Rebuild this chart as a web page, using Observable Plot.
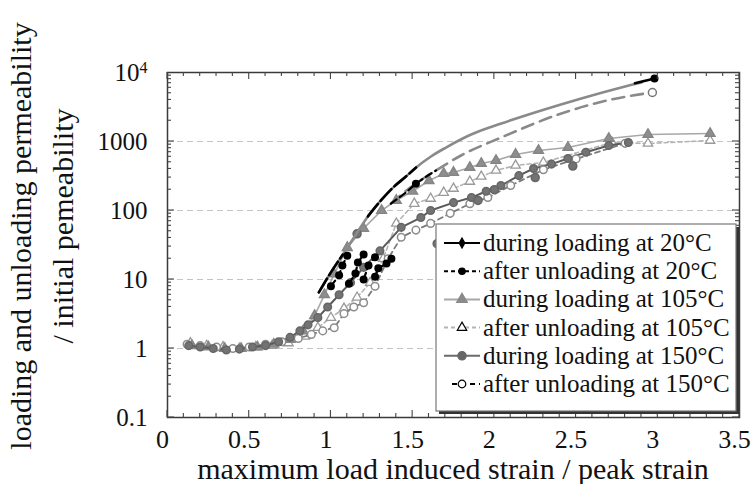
<!DOCTYPE html>
<html><head><meta charset="utf-8">
<script src="https://cdn.jsdelivr.net/npm/d3@7"></script>
<script src="https://cdn.jsdelivr.net/npm/@observablehq/plot@0.6"></script>
<style>body{margin:0;background:#fff}svg{display:block}</style>
</head><body><div id="chart"></div>
<script>
// ---------- tick labels ----------
const xTicks = [0, 0.5, 1, 1.5, 2, 2.5, 3, 3.5];
const xTickLabels = ["0", "0.5", "1", "1.5", "2", "2.5", "3", "3.5"];
const yTicks = [0.1, 1, 10, 100, 1000, 10000];
const yTickLabels = ["0.1", "1", "10", "100", "1000", "10⁴"];
const gridValues = [1, 10, 100, 1000];

const legendLabels = [
  "during loading at 20°C",
  "after unloading at 20°C",
  "during loading at 105°C",
  "after unloading at 105°C",
  "during loading at 150°C",
  "after unloading at 150°C"
];

// ---------- during loading at 150°C ----------
const load150X = [0.13,0.2,0.28,0.36,0.44,0.52,0.6,0.68,0.75,0.81,0.86,0.92,0.98,1.05,1.12,1.2,1.3,1.43,1.55,1.61,1.75,1.86,1.95,2.04,2.15,2.24,2.35,2.45,2.56,2.7,2.82];
const load150Y = [1.1,1.05,1.0,0.95,0.98,1.05,1.1,1.25,1.45,1.8,2.2,2.8,4,6,9,15,26,57,79,100,130,154,190,230,320,406,470,567,700,875,968];
const load150ExtraX = [1.16, 1.65, 1.9, 2.0, 2.25, 2.48];
const load150ExtraY = [46, 33, 140, 200, 300, 440];

// ---------- after unloading at 150°C ----------
const unload150X = [0.12,0.2,0.3,0.4,0.5,0.6,0.7,0.8,0.88,0.95,1.02,1.08,1.14,1.2,1.27,1.35,1.43,1.52,1.61,1.73,1.85,1.96,2.1,2.3,2.5,2.8];
const unload150Y = [1.15,1.1,1.05,1.0,1.05,1.15,1.25,1.4,1.6,1.8,2.0,3.2,4.0,4.6,8,20,41,52,65,91,125,154,230,390,560,940];

// ---------- during loading at 105°C ----------
const load105X = [0.15,0.25,0.35,0.45,0.55,0.65,0.75,0.83,0.9,0.96,1.02,1.1,1.2,1.31,1.4,1.5,1.6,1.69,1.75,1.85,1.92,2.01,2.13,2.27,2.45,2.7,2.94,3.32];
const load105Y = [1.1,1.05,1.0,1.0,1.05,1.15,1.35,1.8,3,6,12,29,55,100,140,190,270,344,356,420,480,530,649,741,819,1105,1262,1306];

// ---------- after unloading at 105°C ----------
const unload105X = [0.14,0.24,0.34,0.44,0.54,0.64,0.74,0.84,0.92,1.0,1.08,1.16,1.24,1.32,1.4,1.51,1.61,1.69,1.75,1.85,1.92,2.01,2.13,2.3,2.72,2.94,3.32];
const unload105Y = [1.2,1.1,1.05,1.0,1.05,1.1,1.2,1.5,2,2.8,3.8,5.5,9,20,65,126,149,182,208,263,311,380,449,497,968,936,1033];

// ---------- upper curves (solid and dashed) ----------
const fitLoadX = [0.926,0.999,1.073,1.153,1.226,1.306,1.38,1.459,1.521,1.612,1.704,1.858,2.042,2.287,2.532,2.777,2.9];
const fitLoadY = [6.5,12.6,23,45,82,140,215,311,420,607,818,1262,1820,2810,4200,6070,7160];
const fitUnloadX = [1.367,1.502,1.643,1.796,2.042,2.41,2.716,2.967];
const fitUnloadY = [126,230,380,627,1143,2550,4060,5130];

// ---------- 20°C specimens (black) ----------
const load20X = [0.926,0.999,1.073, 1.226,1.306,1.38,1.459,1.521, 2.86,2.98];
const load20Y = [6.5,12.6,23, 82,140,215,311,420, 7000,8200];
const load20Spec = ["a","a","a", "b","b","b","b","b", "c","c"];
const unload20X = [1.0,1.05,1.07,1.1, 1.11,1.15,1.165,1.2, 1.2,1.23,1.27, 1.27,1.29,1.34,1.37, 1.367,1.45,1.52,1.6,1.643];
const unload20Y = [8,11.5,16,22, 8.7,12.2,17.6,23, 10,16,21, 11,14.5,17,20, 126,175,245,330,380];
const unload20Spec = ["c","c","c","c", "d","d","d","d", "e","e","e", "f","f","f","f", "g","g","g","g","g"];

const rows = (xs, ys, zs) => xs.map((x, i) => ({x, y: ys[i], s: zs ? zs[i] : "s"}));

const serif = "'Liberation Serif', 'Times New Roman', serif";

const chart = Plot.plot({
  width: 754, height: 484,
  marginLeft: 167, marginRight: 15, marginTop: 72, marginBottom: 67,
  style: {fontFamily: serif, background: "#fff", color: "#111"},
  x: {domain: [0, 3.5]},
  y: {type: "log", domain: [0.1, 10000]},
  marks: [
    Plot.ruleY(gridValues, {stroke: "#c4c4c4", strokeDasharray: "6,4", strokeWidth: 1}),
    Plot.axisX({ticks: xTicks, tickSize: 0, tickPadding: 12, dx: -5, fontSize: 26, tickFormat: d => xTickLabels[xTicks.indexOf(d)], label: null}),
    Plot.axisY({ticks: yTicks, tickSize: 0, tickPadding: 20, fontSize: 25, tickFormat: d => yTickLabels[yTicks.indexOf(d)], label: null}),

    // 105°C
    Plot.line(rows(unload105X, unload105Y), {x: "x", y: "y", stroke: "#b4b4b4", strokeWidth: 1.6, strokeDasharray: "4,3"}),
    Plot.line(rows(load105X, load105Y), {x: "x", y: "y", stroke: "#a8a8a8", strokeWidth: 1.6}),
    Plot.dot(rows(unload105X, unload105Y), {x: "x", y: "y", symbol: "triangle", r: 3.5, fill: "#fff", stroke: "#9a9a9a", strokeWidth: 1.3}),
    Plot.dot(rows(load105X, load105Y), {x: "x", y: "y", symbol: "triangle", r: 3.6, fill: "#8e8e8e", stroke: "#858585"}),

    // 150°C
    Plot.line(rows(unload150X, unload150Y), {x: "x", y: "y", stroke: "#7a7a7a", strokeWidth: 1.8, strokeDasharray: "5,4"}),
    Plot.line(rows(load150X, load150Y), {x: "x", y: "y", stroke: "#5a5a5a", strokeWidth: 2}),
    Plot.dot(rows(unload150X, unload150Y), {x: "x", y: "y", r: 3.8, fill: "#fff", stroke: "#8c8c8c", strokeWidth: 1.5}),
    Plot.dot(rows(load150X, load150Y), {x: "x", y: "y", r: 3.8, fill: "#737373", stroke: "#666"}),
    Plot.dot(rows(load150ExtraX, load150ExtraY), {x: "x", y: "y", r: 4, fill: "#737373", stroke: "#666"}),

    // upper curves
    Plot.line(rows(fitLoadX, fitLoadY), {x: "x", y: "y", stroke: "#8a8a8a", strokeWidth: 2.6, curve: "monotone-x"}),
    Plot.line(rows(fitUnloadX, fitUnloadY), {x: "x", y: "y", stroke: "#8a8a8a", strokeWidth: 2.6, strokeDasharray: "12,7", curve: "monotone-x"}),
    Plot.dot(rows(fitUnloadX.slice(-1), fitUnloadY.slice(-1)), {x: "x", y: "y", r: 4, fill: "#fff", stroke: "#777", strokeWidth: 1.5}),

    // 20°C black
    Plot.line(rows(load20X, load20Y, load20Spec), {x: "x", y: "y", z: "s", stroke: "#000", strokeWidth: 2.6, strokeDasharray: "16,4", curve: "monotone-x"}),
    Plot.line(rows(unload20X, unload20Y, unload20Spec), {x: "x", y: "y", z: "s", stroke: "#000", strokeWidth: 2.2, strokeDasharray: "7,4"}),
    Plot.dot(rows(unload20X, unload20Y, unload20Spec).filter(d => d.s !== "g" || d.y === 245), {x: "x", y: "y", r: 4, fill: "#000"}),
    Plot.dot(rows(load20X.slice(-1), load20Y.slice(-1)), {x: "x", y: "y", r: 4, fill: "#000"}),

    Plot.frame({stroke: "#3a3a3a", strokeWidth: 1.5})
  ]
});

document.getElementById("chart").appendChild(chart);

// ---------- inner tick marks via the plot's scales ----------
const sx = chart.scale("x"), sy = chart.scale("y");
const svg = d3.select(chart);
const g = svg.append("g").attr("stroke", "#444").attr("stroke-width", 1.1);
const X0 = sx.apply(0), X1 = sx.apply(3.5), Y0 = sy.apply(0.1), Y1 = sy.apply(10000);
d3.range(0, 36).forEach(k => {
  const v = k / 10, L = k % 5 === 0 ? 7 : 4, px = sx.apply(v);
  g.append("line").attr("x1", px).attr("x2", px).attr("y1", Y0).attr("y2", Y0 - L);
  g.append("line").attr("x1", px).attr("x2", px).attr("y1", Y1).attr("y2", Y1 + L);
});
[0.1, 1, 10, 100, 1000].forEach(d => {
  d3.range(1, 10).forEach(m => {
    const v = d * m, L = m === 1 ? 7 : 4, py = sy.apply(v);
    g.append("line").attr("x1", X0).attr("x2", X0 + L).attr("y1", py).attr("y2", py);
    g.append("line").attr("x1", X1).attr("x2", X1 - L).attr("y1", py).attr("y2", py);
  });
});

// superscript on 10^4
svg.selectAll("text").filter(function() { return this.textContent === "10⁴"; }).each(function() {
  const t = d3.select(this);
  t.text("10");
  t.append("tspan").attr("dy", "-0.5em").attr("font-size", "16px").text("4");
});

// ---------- axis titles ----------
svg.append("text").attr("x", 453).attr("y", 479).attr("text-anchor", "middle")
  .attr("font-family", serif).attr("font-size", 30).attr("fill", "#111")
  .text("maximum load induced strain / peak strain");
svg.append("text").attr("transform", "translate(31,236) rotate(-90)").attr("text-anchor", "middle")
  .attr("font-family", serif).attr("font-size", 30).attr("fill", "#111")
  .text("loading and unloading permeability");
svg.append("text").attr("transform", "translate(73,226) rotate(-90)").attr("text-anchor", "middle")
  .attr("font-family", serif).attr("font-size", 30).attr("fill", "#111")
  .text("/ initial pemeability");

// ---------- legend ----------
const legendStyle = [
  {stroke: "#000", dash: null, sym: "diamond", fill: "#000", mstroke: "#000", r: 3},
  {stroke: "#000", dash: "4,3", sym: "circle", fill: "#000", mstroke: "#000", r: 3.2},
  {stroke: "#a8a8a8", dash: null, sym: "triangle", fill: "#8a8a8a", mstroke: "#8a8a8a", r: 4},
  {stroke: "#b4b4b4", dash: "4,3", sym: "triangle", fill: "#fff", mstroke: "#000", r: 3.5},
  {stroke: "#6a6a6a", dash: null, sym: "circle", fill: "#666", mstroke: "#666", r: 4.2},
  {stroke: "#000", dash: "5,4", sym: "circle", fill: "#fff", mstroke: "#000", r: 3.8}
];
const lx = 436, ly = 224, lw = 300, lh = 187;
const lg = svg.append("g");
lg.append("rect").attr("x", lx + 3).attr("y", ly + 3).attr("width", lw).attr("height", lh).attr("fill", "#333");
lg.append("rect").attr("x", lx).attr("y", ly).attr("width", lw).attr("height", lh).attr("fill", "#fff").attr("stroke", "#777").attr("stroke-width", 1.2);
const symMap = {circle: d3.symbolCircle, triangle: d3.symbolTriangle, diamond: d3.symbolDiamond};
legendLabels.forEach((lab, i) => {
  const cy = ly + 19 + i * 28.2, st = legendStyle[i];
  const x1 = i === 5 ? 452 : 444, x2 = 480;
  lg.append("line").attr("x1", x1).attr("x2", x2).attr("y1", cy).attr("y2", cy)
    .attr("stroke", st.stroke).attr("stroke-width", 2).attr("stroke-dasharray", st.dash);
  lg.append("path").attr("transform", `translate(462,${cy})`)
    .attr("d", d3.symbol(symMap[st.sym], Math.PI * st.r * st.r)())
    .attr("fill", st.fill).attr("stroke", st.mstroke).attr("stroke-width", 1.2);
  lg.append("text").attr("x", 483).attr("y", cy + 8).attr("text-anchor", "start").attr("font-family", serif)
    .attr("font-size", 25).attr("fill", "#111").text(lab);
});
</script>
</body></html>
